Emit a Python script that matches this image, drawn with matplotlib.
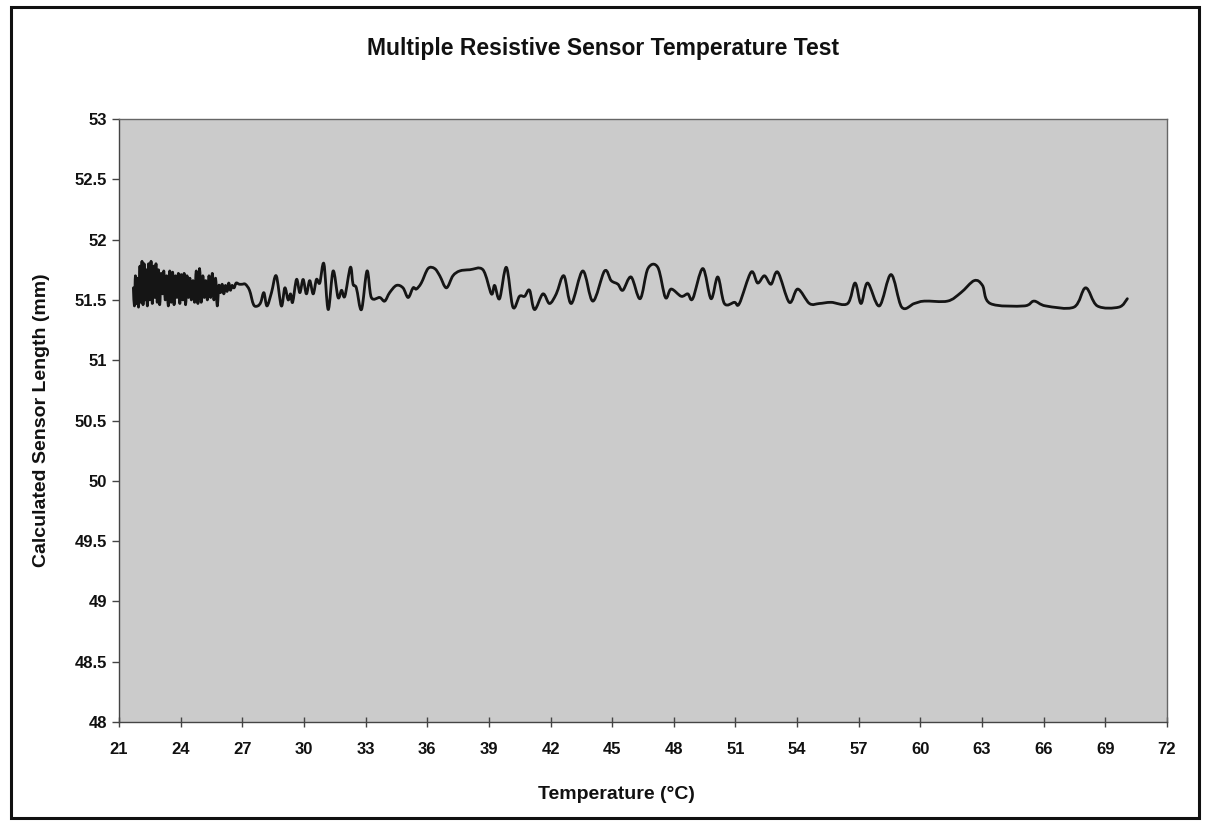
import matplotlib
matplotlib.use("Agg")
import matplotlib.pyplot as plt
from matplotlib.patches import Rectangle, PathPatch
from matplotlib.path import Path

plt.rcParams['font.family'] = ['Liberation Sans', 'DejaVu Sans']

title = "Multiple Resistive Sensor Temperature Test"
xlabel = "Temperature (°C)"
ylabel = "Calculated Sensor Length (mm)"
xticks = [21, 24, 27, 30, 33, 36, 39, 42, 45, 48, 51, 54, 57, 60, 63, 66, 69, 72]
yticks = [48, 48.5, 49, 49.5, 50, 50.5, 51, 51.5, 52, 52.5, 53]

temperature = [
    21.70, 21.75, 21.80, 21.85, 21.90, 21.95, 22.02, 22.07, 22.12, 22.17,
    22.22, 22.27, 22.32, 22.38, 22.44, 22.50, 22.56, 22.62, 22.68, 22.74,
    22.80, 22.86, 22.92, 22.98, 23.05, 23.12, 23.18, 23.25, 23.32, 23.40,
    23.47, 23.54, 23.61, 23.68, 23.75, 23.82, 23.89, 23.96, 24.03, 24.10,
    24.17, 24.24, 24.31, 24.38, 24.45, 24.52, 24.60, 24.68, 24.76, 24.84,
    24.92, 25.00, 25.08, 25.15, 25.22, 25.30, 25.38, 25.46, 25.54, 25.62,
    25.70, 25.78, 25.86, 25.94, 26.02, 26.10, 26.18, 26.26, 26.34, 26.42,
    26.50, 26.60, 26.70, 26.85, 27.00, 27.15, 27.35, 27.55, 27.75, 27.90,
    28.05, 28.20, 28.42, 28.65, 28.90, 29.07, 29.23, 29.35, 29.45,
    29.64, 29.80, 29.96, 30.12, 30.28, 30.45, 30.61, 30.77, 30.97, 31.18,
    31.42, 31.66, 31.83, 31.99, 32.26, 32.39, 32.55, 32.80, 33.07, 33.28,
    33.69, 33.93, 34.17, 34.50, 34.82, 35.07, 35.31, 35.47, 35.71, 36.04,
    36.36, 36.61, 36.93, 37.25, 37.58, 38.07, 38.71, 39.12, 39.28, 39.52,
    39.85, 40.17, 40.49, 40.74, 40.98, 41.22, 41.63, 41.95, 42.28, 42.65,
    43.01, 43.57, 44.06, 44.63, 44.95, 45.28, 45.52, 45.92, 46.36, 46.74,
    47.22, 47.59, 47.87, 48.36, 48.68, 48.92, 49.41, 49.81, 50.14, 50.46,
    50.95, 51.19, 51.76, 52.08, 52.41, 52.73, 53.06, 53.62, 54.03, 54.60,
    55.08, 55.65, 56.46, 56.82, 57.11, 57.43, 58.00, 58.57, 59.09, 59.70,
    60.19, 61.32, 61.97, 62.62, 63.02, 63.40, 65.04, 65.53, 66.10, 67.47,
    68.04, 68.61, 69.66, 70.07,
]
sensor_length = [
    51.60, 51.45, 51.70, 51.47, 51.68, 51.44, 51.78, 51.48, 51.82, 51.46,
    51.80, 51.50, 51.75, 51.45, 51.80, 51.50, 51.82, 51.47, 51.78, 51.52,
    51.80, 51.48, 51.75, 51.46, 51.72, 51.55, 51.74, 51.50, 51.70, 51.45,
    51.74, 51.48, 51.73, 51.46, 51.70, 51.52, 51.72, 51.47, 51.71, 51.50,
    51.72, 51.46, 51.70, 51.52, 51.68, 51.50, 51.66, 51.48, 51.74, 51.47,
    51.76, 51.48, 51.70, 51.52, 51.66, 51.50, 51.70, 51.52, 51.72, 51.50,
    51.68, 51.45, 51.62, 51.56, 51.63, 51.55, 51.62, 51.57, 51.64, 51.58,
    51.62, 51.60, 51.64, 51.63, 51.63, 51.63, 51.58, 51.46, 51.45, 51.48,
    51.56, 51.45, 51.56, 51.70, 51.45, 51.60, 51.50, 51.55, 51.48,
    51.67, 51.56, 51.67, 51.55, 51.66, 51.55, 51.67, 51.64, 51.80, 51.42,
    51.74, 51.52, 51.58, 51.53, 51.77, 51.63, 51.60, 51.42, 51.74, 51.52,
    51.52, 51.49, 51.56, 51.62, 51.60, 51.52, 51.60, 51.59, 51.64, 51.76,
    51.76, 51.70, 51.60, 51.70, 51.74, 51.75, 51.75, 51.55, 51.62, 51.51,
    51.77, 51.44, 51.53, 51.53, 51.58, 51.42, 51.55, 51.47, 51.55, 51.70,
    51.47, 51.74, 51.49, 51.74, 51.66, 51.63, 51.58, 51.69, 51.51, 51.76,
    51.77, 51.52, 51.59, 51.53, 51.55, 51.51, 51.76, 51.51, 51.69, 51.47,
    51.48, 51.47, 51.73, 51.64, 51.70, 51.63, 51.73, 51.48, 51.59, 51.47,
    51.47, 51.48, 51.47, 51.64, 51.47, 51.64, 51.45, 51.71, 51.44, 51.47,
    51.49, 51.49, 51.56, 51.66, 51.62, 51.47, 51.45, 51.49, 51.45, 51.44,
    51.60, 51.45, 51.44, 51.51,
]


def smooth_path(xs, ys):
    """Catmull-Rom style smoothed line (like a spreadsheet 'smoothed line')."""
    pts = list(zip(xs, ys))
    n = len(pts)
    verts = [pts[0]]
    codes = [Path.MOVETO]
    for i in range(n - 1):
        p0 = pts[i - 1] if i > 0 else pts[i]
        p1 = pts[i]
        p2 = pts[i + 1]
        p3 = pts[i + 2] if i + 2 < n else pts[i + 1]
        c1 = (p1[0] + (p2[0] - p0[0]) / 6.0, p1[1] + (p2[1] - p0[1]) / 6.0)
        c2 = (p2[0] - (p3[0] - p1[0]) / 6.0, p2[1] - (p3[1] - p1[1]) / 6.0)
        verts += [c1, c2, p2]
        codes += [Path.CURVE4, Path.CURVE4, Path.CURVE4]
    return Path(verts, codes)


W, H = 1206, 821
fig = plt.figure(figsize=(W / 100, H / 100), dpi=100, facecolor='white')

left, right, bottom, top = 119, 1167, 722, 119
ax = fig.add_axes([left / W, 1 - bottom / H, (right - left) / W, (bottom - top) / H])
ax.set_facecolor('#cbcbcb')

ax.add_patch(PathPatch(smooth_path(temperature, sensor_length), facecolor='none',
                       edgecolor='#151515', linewidth=2.0, joinstyle='round',
                       capstyle='round', transform=ax.transData))

ax.set_xlim(21, 72)
ax.set_ylim(48, 53)
ax.set_xticks(xticks)
ax.set_yticks(yticks)
ax.set_yticklabels([f"{v:g}" for v in yticks])

for s in ax.spines.values():
    s.set_color('#444444')
    s.set_linewidth(1.0)
ax.spines['top'].set_color('#666666')
ax.spines['right'].set_color('#666666')

ax.tick_params(axis='x', direction='inout', length=7, width=1, color='#444444',
               labelsize=12, pad=11, labelcolor='#111111')
ax.tick_params(axis='y', direction='out', length=5, width=1, color='#444444',
               labelsize=12, pad=3.5, labelcolor='#111111')
for lab in ax.get_xticklabels() + ax.get_yticklabels():
    lab.set_fontweight('bold')

fig.text(603 / W, 1 - 49 / H, title, ha='center', va='center',
         fontsize=16.5, fontweight='bold', color='#111111')
fig.text(616 / W, 1 - 794 / H, xlabel, ha='center', va='center',
         fontsize=14, fontweight='bold', color='#111111')
fig.text(42 / W, 1 - 420 / H, ylabel, ha='center', va='center', rotation=90,
         fontsize=14, fontweight='bold', color='#111111')

fig.patches.append(Rectangle((11 / W, 3 / H), 1188 / W, 811 / H,
                             transform=fig.transFigure, fill=False,
                             edgecolor='#111111', linewidth=2.2))

fig.savefig('out.png', dpi=100, facecolor='white')
